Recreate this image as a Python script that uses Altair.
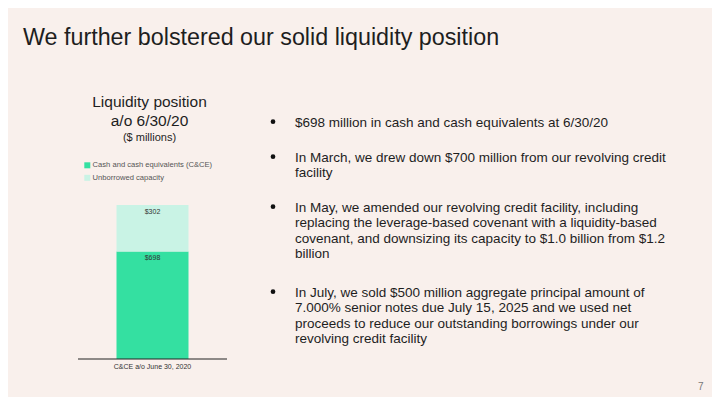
import altair as alt
import pandas as pd

# ---- data ----
category = ["C&CE a/o June 30, 2020"]
series = ["Cash and cash equivalents (C&CE)", "Unborrowed capacity"]
values = [698, 302]
value_labels = ["$698", "$302"]
series_colors = ["#34E0A1", "#C9F3E5"]

slide_title = "We further bolstered our solid liquidity position"
chart_title_lines = ["Liquidity position", "a/o 6/30/20"]
chart_subtitle = "($ millions)"
bullets = [
    ["$698 million in cash and cash equivalents at 6/30/20"],
    ["In March, we drew down $700 million from our revolving credit", "facility"],
    ["In May, we amended our revolving credit facility, including",
     "replacing the leverage-based covenant with a liquidity-based",
     "covenant, and downsizing its capacity to $1.0 billion from $1.2",
     "billion"],
    ["In July, we sold $500 million aggregate principal amount of",
     "7.000% senior notes due July 15, 2025 and we used net",
     "proceeds to reduce our outstanding borrowings under our",
     "revolving credit facility"],
]
page_number = "7"

# ---- build table ----
rows = []
base = 0
for i, (s, v, lab) in enumerate(zip(series, values, value_labels)):
    rows.append({"cat": category[0], "series": s, "order": i, "v0": base, "v1": base + v, "label": lab})
    base += v
df = pd.DataFrame(rows)

FONT = "Liberation Sans"
BG = "#F9F0EC"
TXT = "#1E1E1E"

xscale = alt.Scale(domain=category, range=[70, 219], paddingInner=0, paddingOuter=0)
yscale = alt.Scale(domain=[0, 1000], range=[351, 197])

bars = alt.Chart(df).mark_bar(size=72).encode(
    x=alt.X("cat:N", scale=xscale, axis=None),
    y=alt.Y("v0:Q", scale=yscale, axis=None),
    y2="v1:Q",
    color=alt.Color(
        "series:N",
        scale=alt.Scale(domain=series, range=series_colors),
        legend=alt.Legend(
            title=None, orient="none", legendX=75.5, legendY=153.5,
            symbolType="square", symbolSize=36, symbolStrokeWidth=0,
            labelFontSize=7.6, labelColor="#555555", labelFont=FONT,
            labelOffset=1.5, rowPadding=3.5, padding=0,
        ),
    ),
    order=alt.Order("order:Q"),
)

bar_labels = alt.Chart(df).mark_text(
    font=FONT, fontSize=7, color="#333333", baseline="middle", dy=6.5
).encode(
    x=alt.X("cat:N", scale=xscale, axis=None),
    y=alt.Y("v1:Q", scale=yscale, axis=None),
    text="label:N",
)

base_df = pd.DataFrame({"cat": category, "zero": [0]})
baseline = alt.Chart(base_df).mark_rule(color="#222222", strokeWidth=1).encode(
    y=alt.Y("zero:Q", scale=yscale, axis=None),
    x=alt.value(70),
    x2=alt.value(219),
)
cat_label = alt.Chart(base_df).mark_text(
    font=FONT, fontSize=7, color="#333333", baseline="middle", dy=7.5
).encode(
    x=alt.X("cat:N", scale=xscale, axis=None),
    y=alt.Y("zero:Q", scale=yscale, axis=None),
    text="cat:N",
)

one = pd.DataFrame({"a": [0]})

def txt(text, x, y, size, align="left", color=TXT, baseline="middle", lh=None):
    kw = dict(font=FONT, fontSize=size, color=color, align=align, baseline=baseline, text=text)
    if lh is not None:
        kw["lineHeight"] = lh
    return alt.Chart(one).mark_text(**kw).encode(x=alt.value(x), y=alt.value(y))

layers = [bars, bar_labels, baseline, cat_label]
layers.append(txt(slide_title, 15, 30, 23.3))
layers.append(txt(chart_title_lines[0], 141.5, 93.7, 15.5, align="center"))
layers.append(txt(chart_title_lines[1], 141.5, 112.7, 15.5, align="center"))
layers.append(txt(chart_subtitle, 141.5, 129.8, 11, align="center"))

bullet_y = [113.7, 148.7, 198.7, 283.7]
for lines, yy in zip(bullets, bullet_y):
    layers.append(
        alt.Chart(one).mark_circle(color="#111111", opacity=1, size=22).encode(
            x=alt.value(265), y=alt.value(yy)
        )
    )
    layers.append(txt(lines, 287, yy + 5, 13.5, baseline="alphabetic", lh=15.6))

layers.append(txt(page_number, 692.7, 378.7, 10, align="center", color="#777777"))

chart = alt.layer(*layers).properties(
    width=704, height=389, padding=0,
    autosize=alt.AutoSizeParams(type="none"),
    background=BG,
).configure_view(stroke=None)

chart.save("out.html", embed_options={"renderer": "svg", "actions": False})
